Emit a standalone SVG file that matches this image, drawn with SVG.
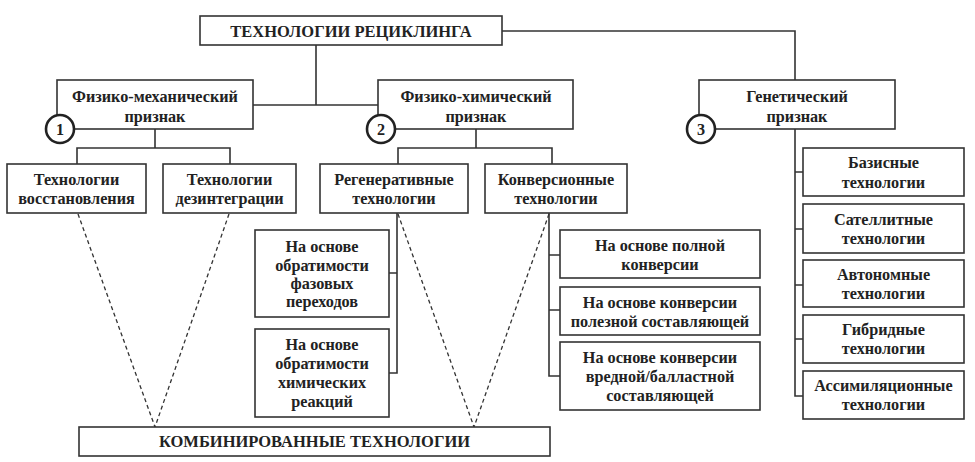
<svg xmlns="http://www.w3.org/2000/svg" width="975" height="462" viewBox="0 0 975 462">
<style>
.box{fill:#fff;stroke:#333;stroke-width:1.6}
.ln{fill:none;stroke:#333;stroke-width:1.6}
.dash{fill:none;stroke:#333;stroke-width:1.3;stroke-dasharray:4 3}
.circ{fill:#fff;stroke:#222;stroke-width:2.6}
text{font-weight:bold;font-size:16.2px;fill:#222;text-anchor:middle}
.cap{font-size:16.5px}
</style>
<rect width="975" height="462" fill="#fff"/>
<g id="connectors">
<path class="ln" d="M316 45V105M253 105H378M502 31H795V80"/>
<path class="ln" d="M155 129V148M77 164V148H230V164"/>
<path class="ln" d="M476 129V148M398 164V148H552V164"/>
<path class="ln" d="M397 213V373H389M389 273H397"/>
<path class="ln" d="M549 213V376H560M549 255H560M549 310H560"/>
<path class="ln" d="M795 129V396H803M795 172H803M795 229H803M795 285H803M795 339H803"/>
<path class="dash" d="M78 214L155 427L229 214"/>
<path class="dash" d="M398 214L474 427L549 214"/>
</g>
<g font-family="'Liberation Serif', 'Times New Roman', serif">
<g id="root"><rect class="box" x="200" y="16" width="302" height="29"/><text class="cap" x="351" y="37">ТЕХНОЛОГИИ РЕЦИКЛИНГА</text></g>
<g id="physmech"><rect class="box" x="57" y="80" width="196" height="49"/><text x="155" y="102">Физико-механический</text><text x="155" y="122">признак</text><circle class="circ" cx="60" cy="129" r="14"/><text x="60" y="134.5">1</text></g>
<g id="physchem"><rect class="box" x="378" y="80" width="195" height="49"/><text x="476" y="102">Физико-химический</text><text x="476" y="122">признак</text><circle class="circ" cx="381" cy="129" r="14"/><text x="381" y="134.5">2</text></g>
<g id="genetic"><rect class="box" x="699" y="80" width="196" height="49"/><text x="797" y="102">Генетический</text><text x="797" y="122">признак</text><circle class="circ" cx="701" cy="129" r="14"/><text x="701" y="134.5">3</text></g>
<g id="restore"><rect class="box" x="7" y="164" width="139" height="49"/><text x="76.5" y="185">Технологии</text><text x="76.5" y="204">восстановления</text></g>
<g id="disint"><rect class="box" x="163" y="164" width="133" height="49"/><text x="229.5" y="185">Технологии</text><text x="229.5" y="204">дезинтеграции</text></g>
<g id="regen"><rect class="box" x="320" y="164" width="148" height="49"/><text x="394" y="185">Регенеративные</text><text x="394" y="204">технологии</text></g>
<g id="conv"><rect class="box" x="485" y="164" width="142" height="49"/><text x="556" y="185">Конверсионные</text><text x="556" y="204">технологии</text></g>
<g id="phase"><rect class="box" x="255" y="230" width="134" height="87"/><text x="322" y="252">На основе</text><text x="322" y="271">обратимости</text><text x="322" y="289">фазовых</text><text x="322" y="307">переходов</text></g>
<g id="chem"><rect class="box" x="255" y="329" width="134" height="88"/><text x="322" y="350">На основе</text><text x="322" y="369">обратимости</text><text x="322" y="388">химических</text><text x="322" y="407">реакций</text></g>
<g id="full"><rect class="box" x="560" y="230" width="200" height="48"/><text x="660" y="251">На основе полной</text><text x="660" y="270">конверсии</text></g>
<g id="useful"><rect class="box" x="560" y="287" width="200" height="48"/><text x="660" y="308">На основе конверсии</text><text x="660" y="327">полезной составляющей</text></g>
<g id="harmful"><rect class="box" x="560" y="342" width="200" height="68"/><text x="660" y="363">На основе конверсии</text><text x="660" y="382">вредной/балластной</text><text x="660" y="401">составляющей</text></g>
<g id="basic"><rect class="box" x="803" y="148" width="161" height="48"/><text x="883.5" y="168">Базисные</text><text x="883.5" y="188">технологии</text></g>
<g id="satellite"><rect class="box" x="803" y="204" width="161" height="49"/><text x="883.5" y="225">Сателлитные</text><text x="883.5" y="244">технологии</text></g>
<g id="autonomous"><rect class="box" x="803" y="260" width="161" height="47"/><text x="883.5" y="280">Автономные</text><text x="883.5" y="299">технологии</text></g>
<g id="hybrid"><rect class="box" x="803" y="315" width="161" height="48"/><text x="883.5" y="335">Гибридные</text><text x="883.5" y="354">технологии</text></g>
<g id="assim"><rect class="box" x="803" y="371" width="161" height="48"/><text x="883.5" y="391">Ассимиляционные</text><text x="883.5" y="410">технологии</text></g>
<g id="combined"><rect class="box" x="79" y="427" width="471" height="29"/><text class="cap" x="314.5" y="447">КОМБИНИРОВАННЫЕ ТЕХНОЛОГИИ</text></g>
</g>
</svg>
